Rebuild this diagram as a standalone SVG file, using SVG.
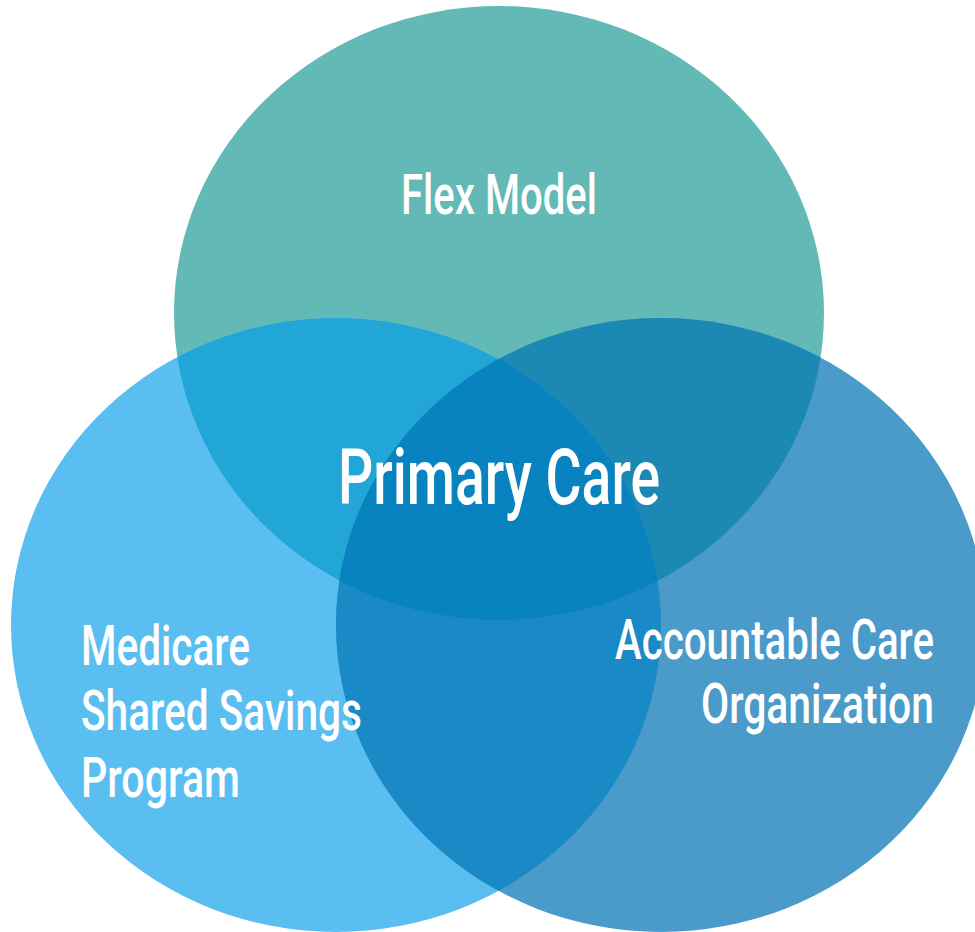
<svg xmlns="http://www.w3.org/2000/svg" width="975" height="932" viewBox="0 0 975 932">
<style>
.lbl{font-family:Roboto,"DejaVu Sans Condensed","Liberation Sans",sans-serif;font-weight:500;fill:#ffffff;font-size:55px}
.big{font-size:77px}
.end{text-anchor:end}
</style>
<defs>
<ellipse id="eT" cx="499" cy="313" rx="325" ry="307"/>
<ellipse id="eL" cx="336" cy="625" rx="325" ry="307"/>
<ellipse id="eR" cx="661" cy="625" rx="325" ry="307"/>
<clipPath id="cT"><use href="#eT"/></clipPath>
<clipPath id="cL"><use href="#eL"/></clipPath>
<clipPath id="cR"><use href="#eR"/></clipPath>
</defs>
<rect width="975" height="932" fill="#ffffff"/>
<g id="circle-flex"><use href="#eT" fill="#62b9b6"/></g>
<g id="circle-medicare"><use href="#eL" fill="#5bbef1"/></g>
<g id="circle-aco"><use href="#eR" fill="#4a9bca"/></g>
<g id="overlaps">
<g clip-path="url(#cT)"><use href="#eL" fill="#22a6d7"/><use href="#eR" fill="#1c89b4"/></g>
<g clip-path="url(#cL)"><use href="#eR" fill="#1a8ac7"/></g>
<g clip-path="url(#cT)"><g clip-path="url(#cL)"><use href="#eR" fill="#0883bf"/></g></g>
</g>
<g id="connectors"></g>
<g id="label-flex"><text class="lbl" x="401" y="214" textLength="196" lengthAdjust="spacingAndGlyphs">Flex Model</text></g>
<g id="label-primary"><text class="lbl big" x="338" y="504" textLength="322" lengthAdjust="spacingAndGlyphs">Primary Care</text></g>
<g id="label-medicare">
<text class="lbl" x="81" y="665" textLength="169" lengthAdjust="spacingAndGlyphs">Medicare</text>
<text class="lbl" x="81" y="730" textLength="281" lengthAdjust="spacingAndGlyphs">Shared Savings</text>
<text class="lbl" x="81" y="797" textLength="159" lengthAdjust="spacingAndGlyphs">Program</text>
</g>
<g id="label-aco">
<text class="lbl end" x="934" y="659" textLength="319" lengthAdjust="spacingAndGlyphs">Accountable Care</text>
<text class="lbl end" x="934" y="723" textLength="233" lengthAdjust="spacingAndGlyphs">Organization</text>
</g>
</svg>
